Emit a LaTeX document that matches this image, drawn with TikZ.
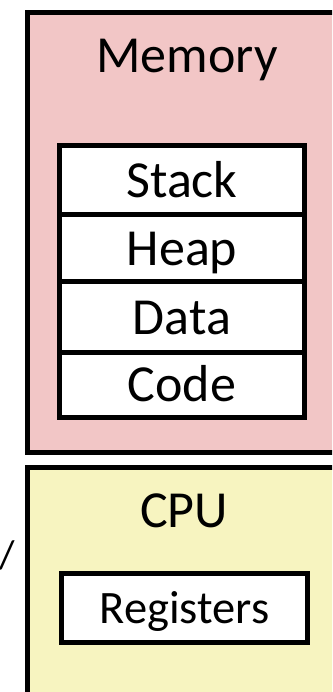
\documentclass[tikz,border=0pt]{standalone}
\usepackage{fontspec}
\setmainfont{Carlito}
\definecolor{mempink}{HTML}{F2C6C6}
\definecolor{cpuyellow}{HTML}{F7F4C0}
\tikzset{
	outerbox/.style={draw=black, line width=5pt},
	segbox/.style={draw=black, fill=white, line width=5pt, minimum width=245pt, inner sep=0pt,
		text height=34pt, text depth=0pt, font=\fontsize{52}{54}\selectfont},
	title/.style={anchor=base, font=\fontsize{52}{54}\selectfont}
}
\begin{document}
\begin{tikzpicture}[x=1pt, y=-1pt, line join=miter]
	\useasboundingbox (0,0) rectangle (332,692);
	\clip (0,0) rectangle (332,692);
	% memory block
	\draw [outerbox, fill=mempink] (27.5,12.5) rectangle (350,452);
	\node[title] (memtitle) at (187,73) {Memory};
	\node[segbox, minimum height=69.5pt] (stack) at (182,180.25) {Stack};
	\node[segbox, minimum height=66.5pt] (heap) at (182,248.25) {Heap};
	\node[segbox, minimum height=71.2pt] (data) at (182,317.1) {Data};
	\node[segbox, minimum height=64.3pt] (code) at (182,384.85) {Code};
	% cpu block
	\draw [outerbox, fill=cpuyellow] (27.5,467.5) rectangle (350,720);
	\node[title] (cputitle) at (184,527) {CPU};
	\node[segbox, minimum width=246pt, minimum height=69pt, text height=30pt,
		font=\fontsize{46.5}{48}\selectfont] (regs) at (184.5,608) {Registers};
	% glyph at the left edge
	\node[anchor=north west, inner sep=0pt, font=\fontsize{40}{42}\selectfont] (cut) at (-1,541) {/};
\end{tikzpicture}
\end{document}
